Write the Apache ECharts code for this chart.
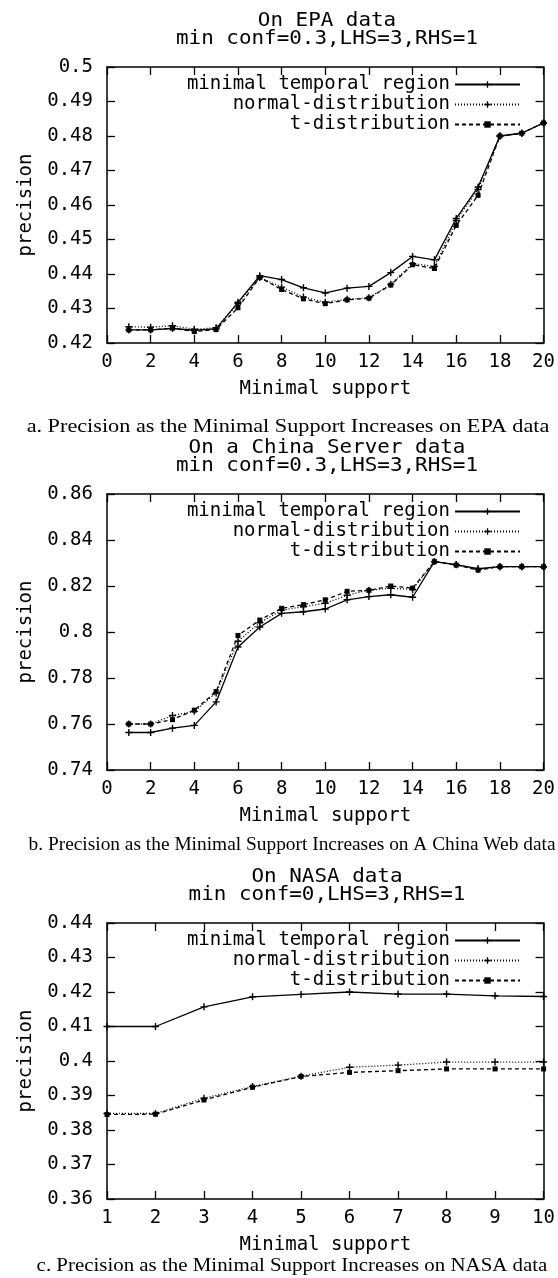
<!DOCTYPE html>
<html>
<head>
<meta charset="utf-8">
<script src="https://cdn.jsdelivr.net/npm/echarts@6/dist/echarts.min.js"></script>
<style>
  html, body { margin: 0; padding: 0; background: #fff; }
  #chart { width: 558px; height: 1278px; }
</style>
</head>
<body>
<div id="chart"></div>
<script>
// minimal support values (x)
const supportEPA = [1, 2, 3, 4, 5, 6, 7, 8, 9, 10, 11, 12, 13, 14, 15, 16, 17, 18, 19, 20];
const supportChina = [1, 2, 3, 4, 5, 6, 7, 8, 9, 10, 11, 12, 13, 14, 15, 16, 17, 18, 19, 20];
const supportNASA = [1, 2, 3, 4, 5, 6, 7, 8, 9, 10];

const seriesNames = ['minimal temporal region', 'normal-distribution', 't-distribution'];

// a. EPA data
const epaMinimal = [0.4238, 0.4238, 0.4242, 0.4237, 0.4241, 0.4318, 0.4395, 0.4384, 0.4360, 0.4345,
  0.4359, 0.4364, 0.4404, 0.4451, 0.4441, 0.4561, 0.4652, 0.4800, 0.4808, 0.4838];
const epaNormal = [0.4247, 0.4246, 0.4250, 0.4240, 0.4244, 0.4314, 0.4390, 0.4362, 0.4333, 0.4318,
  0.4327, 0.4331, 0.4370, 0.4430, 0.4422, 0.4555, 0.4645, 0.4800, 0.4808, 0.4838];
const epaT = [0.4238, 0.4238, 0.4243, 0.4233, 0.4239, 0.4302, 0.4390, 0.4355, 0.4328, 0.4314,
  0.4325, 0.4330, 0.4368, 0.4427, 0.4416, 0.4541, 0.4628, 0.4800, 0.4808, 0.4838];

// b. China server data
const chinaMinimal = [0.7563, 0.7563, 0.7582, 0.7594, 0.7696, 0.7935, 0.8022, 0.8081, 0.8088, 0.8100,
  0.8140, 0.8154, 0.8162, 0.8151, 0.8306, 0.8293, 0.8275, 0.8284, 0.8284, 0.8284];
const chinaNormal = [0.7600, 0.7600, 0.7637, 0.7655, 0.7735, 0.7960, 0.8040, 0.8095, 0.8110, 0.8125,
  0.8160, 0.8182, 0.8190, 0.8185, 0.8306, 0.8292, 0.8273, 0.8284, 0.8284, 0.8284];
const chinaT = [0.7600, 0.7600, 0.7619, 0.7660, 0.7741, 0.7985, 0.8052, 0.8103, 0.8119, 0.8140,
  0.8177, 0.8181, 0.8200, 0.8191, 0.8306, 0.8291, 0.8269, 0.8284, 0.8284, 0.8284];

// c. NASA data
const nasaMinimal = [0.4100, 0.4100, 0.4157, 0.4186, 0.4193, 0.4200, 0.4194, 0.4194, 0.4189, 0.4187];
const nasaNormal = [0.3848, 0.3848, 0.3892, 0.3926, 0.3956, 0.3982, 0.3988, 0.3997, 0.3997, 0.3997];
const nasaT = [0.3845, 0.3846, 0.3887, 0.3924, 0.3955, 0.3967, 0.3972, 0.3977, 0.3977, 0.3977];

const titles = [
  ['On EPA data', 'min conf=0.3,LHS=3,RHS=1'],
  ['On a China Server data', 'min conf=0.3,LHS=3,RHS=1'],
  ['On NASA data', 'min conf=0,LHS=3,RHS=1']
];
const captions = [
  'a. Precision as the Minimal Support Increases on EPA data',
  'b. Precision as the Minimal Support Increases on A China Web data',
  'c. Precision as the Minimal Support Increases on NASA data'
];

const MONO = '"DejaVu Sans Mono", "Liberation Mono", monospace';
const SERIF = '"Liberation Serif", "DejaVu Serif", serif';
const PLUS = 'path://M0,4H10V6H0Z M4,0H6V10H4Z';

// panel layout (pixels)
const panels = [
  {top: 67, height: 276, xMin: 0, xMax: 20, xStep: 2, yMin: 0.42, yMax: 0.5, yStep: 0.01,
    xs: supportEPA, ys: [epaMinimal, epaNormal, epaT], capX: 288, capY: 427, capScale: 1.17},
  {top: 494, height: 276, xMin: 0, xMax: 20, xStep: 2, yMin: 0.74, yMax: 0.86, yStep: 0.02,
    xs: supportChina, ys: [chinaMinimal, chinaNormal, chinaT], capX: 292, capY: 845, capScale: 1.02},
  {top: 923, height: 276, xMin: 1, xMax: 10, xStep: 1, yMin: 0.36, yMax: 0.44, yStep: 0.01,
    xs: supportNASA, ys: [nasaMinimal, nasaNormal, nasaT], capX: 292, capY: 1266, capScale: 1.10}
];
const LEFT = 107, RIGHT = 547;

const seriesStyle = [
  {line: {type: 'solid', width: 1.3}, symbol: PLUS, size: 7},
  {line: {type: [1, 2], width: 1.3}, symbol: PLUS, size: 7},
  {line: {type: [4, 3], width: 1.3}, symbol: 'rect', size: 5}
];

const grid = [], xAxis = [], yAxis = [], series = [], legend = [], graphics = [];
const axisLine = {show: true, onZero: false, lineStyle: {color: '#000', width: 1.5}};
const tick = {show: true, inside: true, length: 8, lineStyle: {color: '#000', width: 1.3}};
const labelFont = {color: '#000', fontFamily: MONO, fontSize: 19};

panels.forEach(function(p, i) {
  grid.push({left: LEFT, width: RIGHT - LEFT, top: p.top, height: p.height});
  xAxis.push({
    type: 'value', gridIndex: i, position: 'bottom', min: p.xMin, max: p.xMax, interval: p.xStep,
    axisLine: axisLine, axisTick: tick, splitLine: {show: false},
    axisLabel: Object.assign({margin: 10}, labelFont),
    name: 'Minimal support', nameLocation: 'middle', nameGap: 37,
    nameTextStyle: {color: '#000', fontFamily: MONO, fontSize: 19}
  });
  xAxis.push({
    type: 'value', gridIndex: i, position: 'top', min: p.xMin, max: p.xMax, interval: p.xStep,
    axisLine: axisLine, axisTick: tick, splitLine: {show: false}, axisLabel: {show: false}
  });
  yAxis.push({
    type: 'value', gridIndex: i, position: 'left', min: p.yMin, max: p.yMax, interval: p.yStep,
    axisLine: axisLine, axisTick: tick, splitLine: {show: false},
    axisLabel: Object.assign({margin: 14, formatter: function(v) { return String(+v.toFixed(2)); }}, labelFont),
    name: 'precision', nameLocation: 'middle', nameGap: 71, nameRotate: 90,
    nameTextStyle: {color: '#000', fontFamily: MONO, fontSize: 19}
  });
  yAxis.push({
    type: 'value', gridIndex: i, position: 'right', min: p.yMin, max: p.yMax, interval: p.yStep,
    axisLine: axisLine, axisTick: tick, splitLine: {show: false}, axisLabel: {show: false}
  });
  seriesNames.forEach(function(name, k) {
    const st = seriesStyle[k];
    series.push({
      type: 'line', name: name, xAxisIndex: 2 * i, yAxisIndex: 2 * i,
      data: p.xs.map(function(x, j) { return [x, p.ys[k][j]]; }),
      symbol: st.symbol, symbolSize: st.size, showSymbol: true,
      lineStyle: {color: '#000', width: st.line.width, type: st.line.type},
      itemStyle: {color: '#000'},
      z: 3 - k
    });
  });
  legend.push({
    data: seriesNames, orient: 'vertical', align: 'right', right: 32, top: p.top + 3,
    itemWidth: 65, itemHeight: 8, itemGap: 1, selectedMode: false,
    textStyle: {color: '#000', fontFamily: MONO, fontSize: 19}
  });
  const cx = (LEFT + RIGHT) / 2;
  graphics.push({type: 'text', x: cx, y: p.top - 46, scaleX: 1.1,
    style: {text: titles[i][0], align: 'center', verticalAlign: 'middle', fill: '#000', font: '19px ' + MONO}});
  graphics.push({type: 'text', x: cx, y: p.top - 28, scaleX: 1.1,
    style: {text: titles[i][1], align: 'center', verticalAlign: 'middle', fill: '#000', font: '19px ' + MONO}});
  graphics.push({type: 'text', x: p.capX, y: p.capY, scaleX: p.capScale,
    style: {text: captions[i], align: 'center', verticalAlign: 'middle', fill: '#000', font: '19px ' + SERIF}});
});

const chart = echarts.init(document.getElementById('chart'));
chart.setOption({
  animation: false,
  backgroundColor: '#fff',
  grid: grid,
  xAxis: xAxis,
  yAxis: yAxis,
  legend: legend,
  series: series,
  graphic: {elements: graphics}
});
</script>
</body>
</html>
